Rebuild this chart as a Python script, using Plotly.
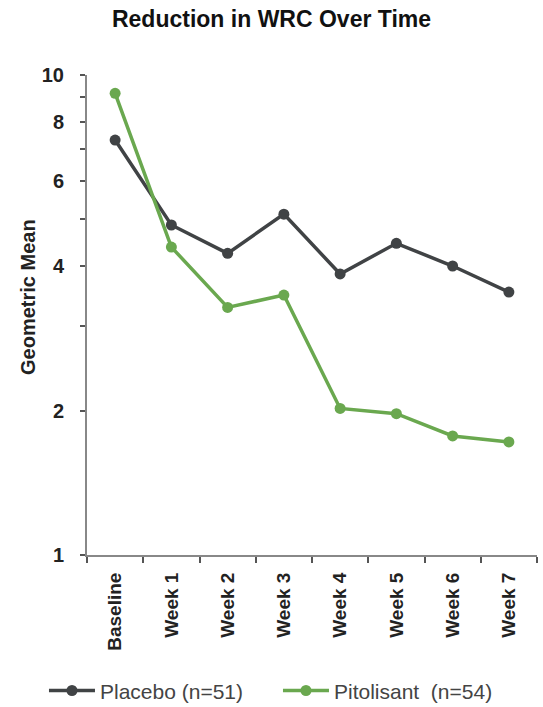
import plotly.graph_objects as go

categories = ["Baseline", "Week 1", "Week 2", "Week 3", "Week 4", "Week 5", "Week 6", "Week 7"]
placebo = [7.32, 4.87, 4.25, 5.13, 3.85, 4.46, 4.0, 3.53]
pitolisant = [9.16, 4.38, 3.28, 3.48, 2.02, 1.97, 1.77, 1.72]
y_tickvals = [1, 2, 3, 4, 5, 6, 7, 8, 9, 10]
y_ticktext = ["1", "2", "", "4", "", "6", "", "8", "", "10"]

GRAY = "#404345"
GREEN = "#6aa84f"
FONT = "Liberation Sans, Arial, sans-serif"

fig = go.Figure()
fig.add_trace(go.Scatter(
    x=categories, y=placebo, mode="lines+markers", name="Placebo (n=51)",
    line=dict(color=GRAY, width=3.5), marker=dict(color=GRAY, size=11),
))
fig.add_trace(go.Scatter(
    x=categories, y=pitolisant, mode="lines+markers", name="Pitolisant  (n=54)",
    line=dict(color=GREEN, width=3.5), marker=dict(color=GREEN, size=11),
))

fig.update_layout(
    width=543, height=707,
    margin=dict(l=87, r=6, t=75, b=152, autoexpand=False),
    plot_bgcolor="white", paper_bgcolor="white",
    font=dict(family=FONT, color="#222"),
    title=dict(text="<b>Reduction in WRC Over Time</b>", x=0.5, xanchor="center",
               y=1 - 19 / 707, yanchor="middle", font=dict(size=23, color="#111")),
    showlegend=True,
    legend=dict(orientation="h", x=-0.0956, xanchor="left", y=-0.283, yanchor="middle",
                font=dict(size=21, color="#444"), itemwidth=46, entrywidth=173,
                entrywidthmode="pixels", traceorder="normal"),
    annotations=[dict(
        text="<b>Geometric Mean</b>", textangle=-90, showarrow=False,
        xref="paper", yref="paper", x=(28 - 87) / 450, y=(555 - 297) / 480,
        xanchor="center", yanchor="middle",
        font=dict(size=20, color="#222", family=FONT),
    )],
)
fig.update_xaxes(
    type="category", range=[-0.5, 7.5], showline=True, linecolor="#888", linewidth=2,
    ticks="outside", tickson="boundaries", ticklen=6, tickcolor="#555", tickwidth=1.5,
    tickangle=-90, tickfont=dict(size=19, color="#222", family=FONT, weight="bold"),
    ticklabelstandoff=8,
    showgrid=False, zeroline=False, automargin=False,
)
fig.update_yaxes(
    type="log", range=[0, 1], showline=True, linecolor="#888", linewidth=2,
    tickvals=y_tickvals, ticktext=y_ticktext, ticks="outside", ticklen=5,
    tickcolor="#555", tickwidth=1.5,
    tickfont=dict(size=20, color="#222", family=FONT, weight="bold"),
    ticklabelstandoff=12,
    showgrid=False, zeroline=False, automargin=False,
)

fig.write_html("out.html", config={"displayModeBar": False},
               post_script="document.body.style.margin='0';document.body.style.padding='0';")
